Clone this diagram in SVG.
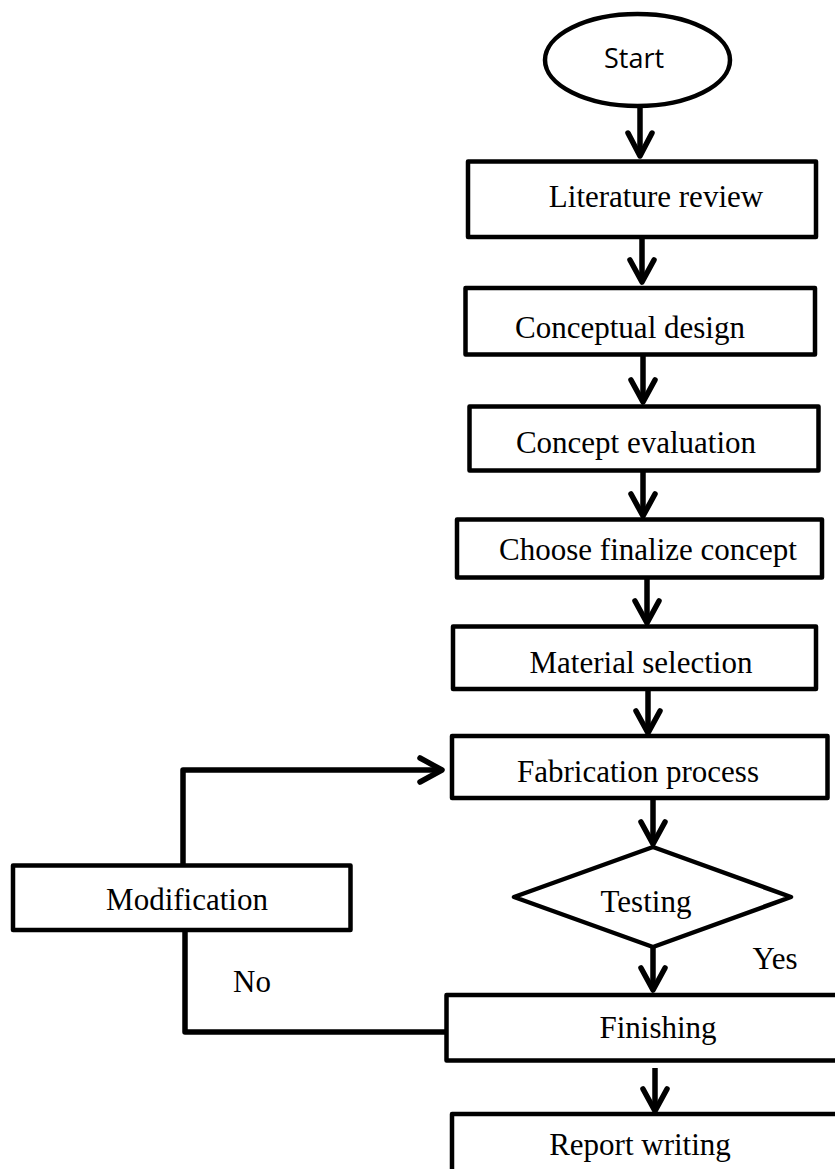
<svg xmlns="http://www.w3.org/2000/svg" width="835" height="1169" viewBox="0 0 835 1169">
<style>
.box{fill:#fff;stroke:#000;stroke-width:4.5;stroke-linejoin:round}
.t{font-family:"Liberation Serif","Times New Roman",serif;font-size:31px;fill:#000;text-anchor:middle}
.s{font-family:"Open Sans","Noto Sans",sans-serif;font-size:27px;fill:#000;text-anchor:middle}
.c{fill:none;stroke:#000;stroke-width:5.5;stroke-linejoin:round;stroke-linecap:butt}
.h{fill:none;stroke:#000;stroke-width:5.5;stroke-linejoin:round;stroke-linecap:round}
</style>
<rect width="835" height="1169" fill="#fff"/>
<g id="connectors">
<path class="c" d="M640 106V156"/><path class="h" d="M628 133L640 156L652 133"/>
<path class="c" d="M642 238V282"/><path class="h" d="M630 260L642 282L654 260"/>
<path class="c" d="M643 356V402"/><path class="h" d="M631 380L643 402L655 380"/>
<path class="c" d="M643 472V516"/><path class="h" d="M631 494L643 516L655 494"/>
<path class="c" d="M647 579V623"/><path class="h" d="M635 601L647 623L659 601"/>
<path class="c" d="M648 690V733"/><path class="h" d="M636 711L648 733L660 711"/>
<path class="c" d="M653 799V844"/><path class="h" d="M641 822L653 844L665 822"/>
<path class="c" d="M653 947V990"/><path class="h" d="M641 968L653 990L665 968"/>
<path class="c" d="M655 1068V1111"/><path class="h" d="M643 1089L655 1111L667 1089"/>
<path class="c" d="M183 866V770H440"/><path class="h" d="M420 758L442 770L420 782"/>
<path class="c" d="M185 930V1032H450"/>
</g>
<g id="start"><ellipse cx="637.5" cy="60" rx="92.5" ry="46" fill="#fff" stroke="#000" stroke-width="4.5"/><text class="s" x="634" y="68">Start</text></g>
<g id="literature"><rect class="box" x="468" y="161.5" width="348" height="75.5"/><text class="t" x="656" y="207">Literature review</text></g>
<g id="conceptual"><rect class="box" x="465.5" y="288" width="349.5" height="66.5"/><text class="t" x="630" y="338">Conceptual design</text></g>
<g id="evaluation"><rect class="box" x="469.5" y="406.5" width="349" height="64"/><text class="t" x="636" y="453">Concept evaluation</text></g>
<g id="choose"><rect class="box" x="457" y="519.5" width="365" height="58"/><text class="t" x="648" y="560">Choose finalize concept</text></g>
<g id="material"><rect class="box" x="453" y="626.5" width="363" height="62.5"/><text class="t" x="641" y="673">Material selection</text></g>
<g id="fabrication"><rect class="box" x="452" y="736" width="375.5" height="62"/><text class="t" x="638" y="782">Fabrication process</text></g>
<g id="testing"><path class="box" d="M653 847L791 897L653 947L514 897Z"/><text class="t" x="646" y="912">Testing</text></g>
<g id="modification"><rect class="box" x="13" y="865.5" width="337.5" height="64.5"/><text class="t" x="187" y="910">Modification</text></g>
<g id="finishing"><rect class="box" x="446.5" y="995" width="400" height="65.5"/><text class="t" x="658" y="1038">Finishing</text></g>
<g id="report"><rect class="box" x="452" y="1114" width="400" height="100"/><text class="t" x="640" y="1155">Report writing</text></g>
<g id="labels"><text class="t" x="775" y="969">Yes</text><text class="t" x="252" y="992">No</text></g>
</svg>
